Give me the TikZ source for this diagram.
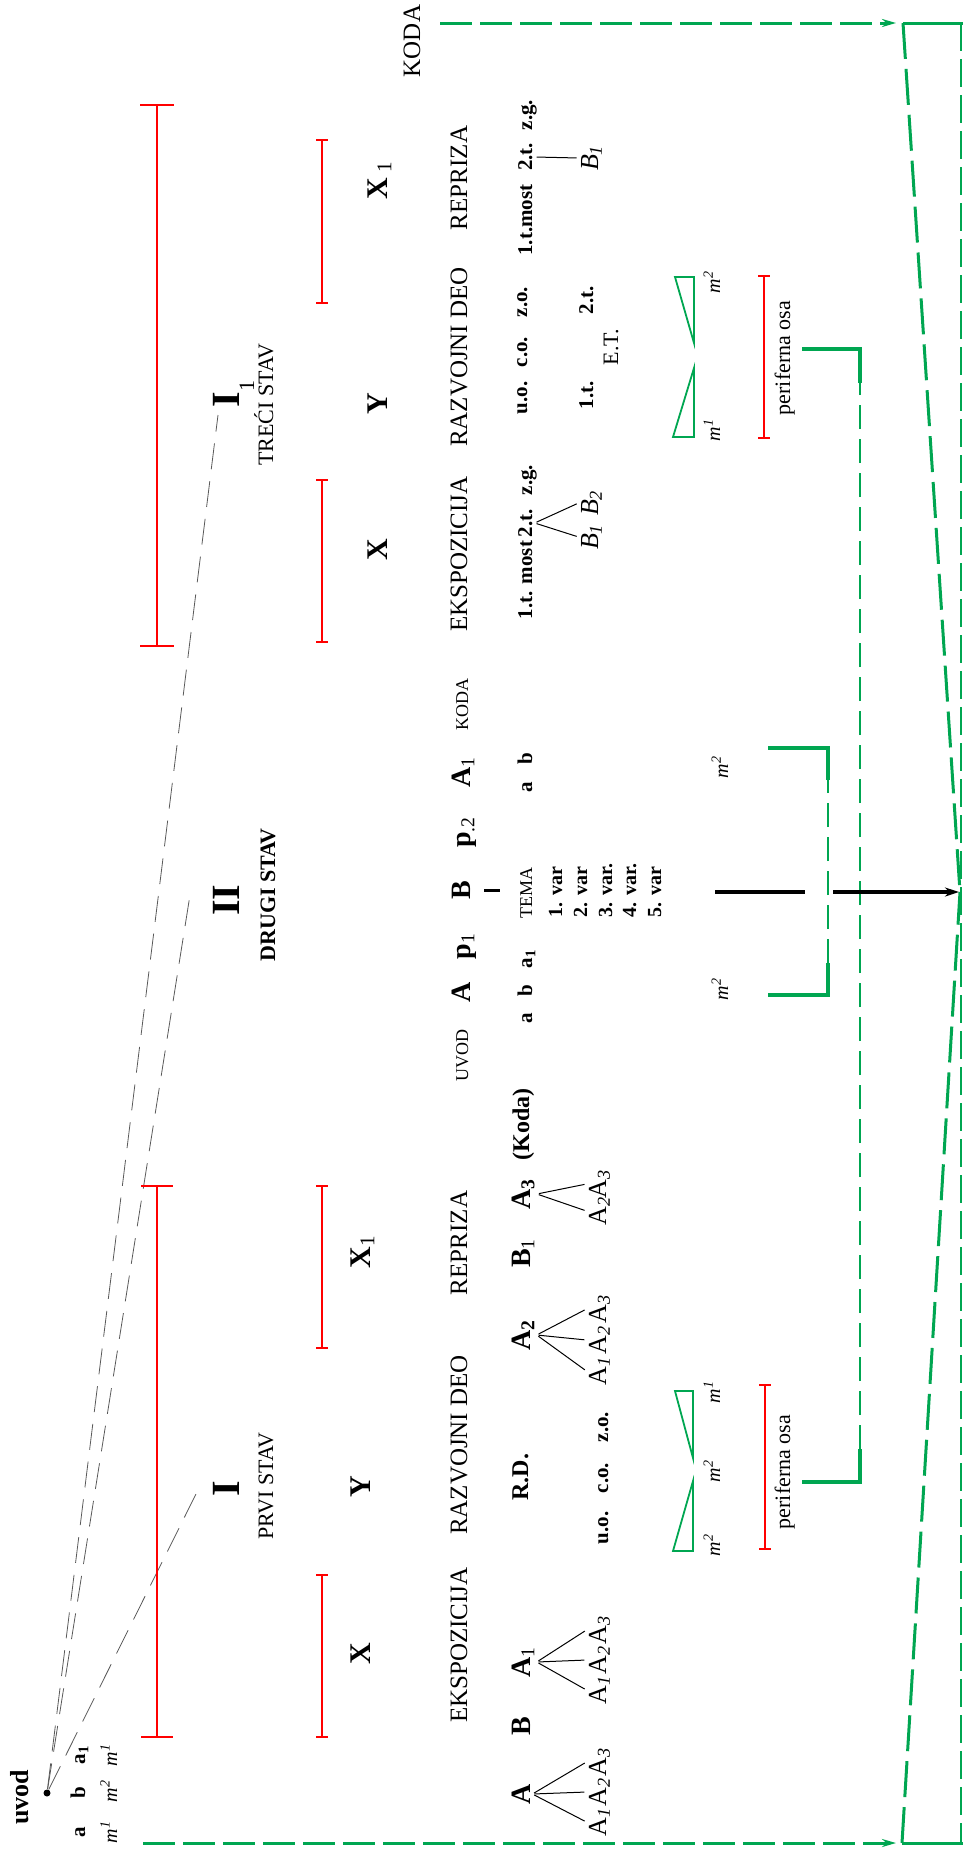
\documentclass[tikz,border=0pt]{standalone}
\usepackage{fontspec}
\setmainfont{Liberation Serif}
\usetikzlibrary{arrows.meta}
\definecolor{formred}{RGB}{255,0,0}
\definecolor{osagreen}{RGB}{0,166,81}
\newcommand{\slova}[1]{\fontsize{#1}{#1}\selectfont}
% bar with caps: [line width]{x}{y from}{y to}{half cap}
\newcommand{\formbar}[5][1pt]{%
  \draw[formred,line width=#1] (#2,#3) -- (#2,#4);
  \draw[formred,line width=#1] ({#2-#5},#3) -- ({#2+#5},#3)
    ({#2-#5},#4) -- ({#2+#5},#4);
}

\begin{document}
\begin{tikzpicture}[x=.5pt,y=-.5pt,
    rot/.style={rotate=90,anchor=base,inner sep=1pt},
    sekcija/.style={rot,font=\slova{12.5}},
    malo/.style={rot,font=\slova{9}},
    rimski/.style={rot,font=\slova{20}\bfseries},
    naziv/.style={rot,font=\slova{11}},
    oznaka/.style={rot,font=\slova{15}\bfseries},
    tema/.style={rot,font=\slova{14}\bfseries},
    podtema/.style={rot,font=\slova{13}},
    deo/.style={rot,font=\slova{10.5}\bfseries},
    modus/.style={rot,font=\slova{10}\itshape},
    varijacija/.style={rot,anchor=base west,font=\slova{10}\bfseries},
    grana/.style={line width=.5pt,shorten <=1pt,shorten >=1pt},
    veza/.style={black!65,line width=.4pt,dash pattern=on 13pt off 6pt},
    osa/.style={osagreen,line width=2pt},
    osacrta/.style={osagreen,line width=1pt,dash pattern=on 12pt off 5pt},
    okvir/.style={osagreen,line width=1.5pt,dash pattern=on 16pt off 4pt},
    dinamika/.style={osagreen,line width=.9pt},
  ]
  \useasboundingbox (0,0) rectangle (963,1852);

  % uvod
  \node[rot,font=\slova{13}\bfseries] (uvod) at (28,1797) {uvod};
  \node[circle,fill,inner sep=0pt,minimum size=3.5pt] (tacka) at (47,1793) {};
  \node[deo] (uvoda) at (85,1832) {a};
  \node[deo] (uvodb) at (85,1793) {b};
  \node[deo] (uvoda1) at (85,1755) {a\textsubscript{1}};
  \node[modus] (uvodm1) at (117,1832) {m\textsuperscript{1}};
  \node[modus] (uvodm2) at (117,1791) {m\textsuperscript{2}};
  \node[modus] (uvodm3) at (117,1755) {m\textsuperscript{1}};

  % stavovi
  \node[rimski] (prvi) at (239,1489) {I};
  \node[naziv] (prvinaziv) at (273,1486) {PRVI STAV};
  \node[rimski] (drugi) at (239,900) {II};
  \node[naziv,font=\slova{11}\bfseries] (druginaziv) at (275,895) {DRUGI STAV};
  \node[rimski] (treci) at (239,394) {I\raisebox{-7.5pt}{\slova{11}\mdseries 1}};
  \node[naziv] (trecinaziv) at (273,405) {TREĆI STAV};

  \coordinate (krajI) at (198,1490);
  \coordinate (krajII) at (190,895);
  \coordinate (krajIII) at (218,415);
  \draw[veza] (tacka) -- (krajI);
  \draw[veza] (tacka) -- (krajII);
  \draw[veza] (tacka) -- (krajIII);

  % crvene linije
  \formbar{157}{1186}{1737}{16}
  \formbar{157}{105}{646}{17}
  \formbar{322}{1575}{1737}{6}
  \formbar{322}{1186}{1348}{6}
  \formbar{322}{480}{642}{6}
  \formbar{322}{140}{303}{6}
  \formbar[.8pt]{765}{1385}{1549}{6}
  \formbar[.8pt]{764}{276}{438}{6}

  \node[oznaka] (prviX) at (370,1654) {X};
  \node[oznaka] (prviY) at (370,1487) {Y};
  \node[oznaka] (prviX1) at (370,1252) {X\textsubscript{\mdseries 1}};
  \node[oznaka] (treciX) at (387,550) {X};
  \node[oznaka] (treciY) at (387,404) {Y};
  \node[oznaka] (treciX1) at (387,180) {X\,\textsubscript{\mdseries 1}};

  % prvi stav
  \node[sekcija] (eksp1) at (467,1645) {EKSPOZICIJA};
  \node[sekcija] (razv1) at (467,1445) {RAZVOJNI DEO};
  \node[sekcija] (repr1) at (467,1243) {REPRIZA};

  \node[tema] (eA) at (530,1794) {A};
  \node[tema] (eB) at (530,1726) {B};
  \node[tema] (eA1) at (530,1662) {A\textsubscript{\mdseries 1}};
  \node[podtema] (eA-1) at (606,1822) {A\textsubscript{\itshape 1}};
  \node[podtema] (eA-2) at (606,1792) {A\textsubscript{\itshape 2}};
  \node[podtema] (eA-3) at (606,1762) {A\textsubscript{\itshape 3}};
  \node[podtema] (eA1-1) at (606,1690) {A\textsubscript{\itshape 1}};
  \node[podtema] (eA1-2) at (606,1660) {A\textsubscript{\itshape 2}};
  \node[podtema] (eA1-3) at (606,1630) {A\textsubscript{\itshape 3}};
  \foreach \k in {1,2,3}{
    \draw[grana] (eA.south) -- (eA-\k.north);
    \draw[grana] (eA1.south) -- (eA1-\k.north);
  }

  \node[deo,font=\slova{12}\bfseries] (rd) at (528,1477) {R.D.};
  \node[deo] (uo1) at (608,1528) {u.o.};
  \node[deo] (co1) at (608,1478) {c.o.};
  \node[deo] (zo1) at (608,1427) {z.o.};
  \node[tema] (rA2) at (530,1335) {A\textsubscript{2}};
  \node[podtema] (rA2-1) at (606,1371) {A\textsubscript{\itshape 1}};
  \node[podtema] (rA2-2) at (606,1340) {A\textsubscript{\itshape 2}};
  \node[podtema] (rA2-3) at (606,1309) {A\textsubscript{\itshape 3}};
  \foreach \k in {1,2,3}{\draw[grana] (rA2.south) -- (rA2-\k.north);}

  \node[tema] (pB1) at (530,1253) {B\textsubscript{\mdseries 1}};
  \node[tema] (pA3) at (530,1194) {A\textsubscript{3}};
  \node[podtema] (pA3-2) at (606,1211) {A\textsubscript{\itshape 2}};
  \node[podtema] (pA3-3) at (606,1184) {A\textsubscript{\itshape 3}};
  \foreach \k in {2,3}{\draw[grana] (pA3.south) -- (pA3-\k.north);}
  \node[tema,font=\slova{12}\bfseries] (koda1) at (529,1124) {(Koda)};

  % drugi stav
  \node[malo] (uvod2) at (468,1055) {UVOD};
  \node[tema] (tA) at (470,992) {A};
  \node[tema] (tp1) at (470,946) {p\textsubscript{\mdseries 1}};
  \node[tema] (tB) at (470,890) {B};
  \node[tema] (tp2) at (470,832) {p\textsubscript{\mdseries .2}};
  \node[tema] (tA1) at (470,772) {A\textsubscript{\mdseries 1}};
  \node[malo] (koda2) at (468,704) {KODA};
  \node[deo] (ta-a) at (532,1018) {a};
  \node[deo] (ta-b) at (532,991) {b};
  \node[deo] (ta-a1) at (532,959) {a\textsubscript{1}};
  \node[malo] (tema) at (532,893) {TEMA};
  \node[deo] (tA1-a) at (532,787) {a};
  \node[deo] (tA1-b) at (532,759) {b};
  \draw[line width=1.5pt,shorten <=6pt,shorten >=9pt] (tB.south) -- (tema.north |- tB.south);
  \node[varijacija] (var1) at (562,920) {1. var};
  \node[varijacija] (var2) at (587,920) {2. var};
  \node[varijacija] (var3) at (612,920) {3. var.};
  \node[varijacija] (var4) at (636,920) {4. var.};
  \node[varijacija] (var5) at (661,920) {5. var};

  % treci stav
  \node[sekcija] (eksp3) at (467,554) {EKSPOZICIJA};
  \node[sekcija] (razv3) at (467,357) {RAZVOJNI DEO};
  \node[sekcija] (repr3) at (467,178) {REPRIZA};
  \node[sekcija] (koda3) at (420,41) {KODA};

  \node[deo] (e3t1) at (532,580) {1.t. most};
  \node[deo] (e3t2) at (532,523) {2.t.};
  \node[deo] (e3zg) at (532,480) {z.g.};
  \node[rot,font=\slova{13}\itshape] (e3B1) at (598,537) {B\textsubscript{1}};
  \node[rot,font=\slova{13}\itshape] (e3B2) at (598,503) {B\textsubscript{2}};
  \draw[grana] (e3t2.south) -- (e3B1.north);
  \draw[grana] (e3t2.south) -- (e3B2.north);

  \node[deo] (uo3) at (527,398) {u.o.};
  \node[deo] (co3) at (527,352) {c.o.};
  \node[deo] (zo3) at (527,302) {z.o.};
  \node[deo] (r3t1) at (593,395) {1.t.};
  \node[deo] (r3t2) at (593,300) {2.t.};
  \node[naziv] (r3et) at (618,347) {E.T.};

  \node[deo] (p3t1) at (532,220) {1.t.most};
  \node[deo] (p3t2) at (532,157) {2.t.};
  \node[deo] (p3zg) at (532,115) {z.g.};
  \node[rot,font=\slova{13}\itshape] (p3B1) at (598,158) {B\textsubscript{1}};
  \draw[grana] (p3t2.south) -- (p3B1.north);

  % dinamika
  \draw[dinamika] (675,1391) -- (693,1391) -- (693,1458) -- cycle;
  \draw[dinamika] (673,1551) -- (693,1551) -- (693,1481) -- cycle;
  \draw[dinamika] (675,277) -- (694,277) -- (694,343) -- cycle;
  \draw[dinamika] (673,437) -- (694,437) -- (694,368) -- cycle;
  \node[modus] (m1a) at (720,1392) {m\textsuperscript{1}};
  \node[modus] (m1b) at (720,1471) {m\textsuperscript{2}};
  \node[modus] (m1c) at (720,1545) {m\textsuperscript{2}};
  \node[modus] (m2a) at (728,989) {m\textsuperscript{2}};
  \node[modus] (m2b) at (728,767) {m\textsuperscript{2}};
  \node[modus] (m3a) at (720,282) {m\textsuperscript{2}};
  \node[modus] (m3b) at (720,430) {m\textsuperscript{1}};

  \node[naziv] (perif1) at (790,1472) {periferna osa};
  \node[naziv] (perif3) at (790,358) {periferna osa};

  % zelene ose
  \draw[osa] (802,1482) -- (860,1482) -- (860,1449);
  \draw[osacrta] (860,1449) -- (860,383);
  \draw[osa] (860,383) -- (860,349) -- (802,349);
  \draw[osa] (768,995) -- (828,995) -- (828,963);
  \draw[osacrta] (828,963) -- (828,780);
  \draw[osa] (828,780) -- (828,748) -- (768,748);

  \draw[line width=1.6pt] (715,892) -- (805,892);
  \draw[line width=1.6pt,-{Stealth[length=7pt,width=4.5pt]}] (833,892) -- (959,892);

  \draw[okvir,-{Stealth[length=7pt,width=4pt]}] (440,23) -- (896,23);
  \draw[okvir,-{Stealth[length=7pt,width=4pt]}] (143,1843) -- (896,1843);
  \draw[osagreen,line width=1.5pt] (903,23) -- (963,23);
  \draw[osagreen,line width=1.5pt] (902,1843) -- (963,1843);
  \draw[okvir,dash pattern=on 18pt off 5pt] (903,23) -- (960,892);
  \draw[okvir,dash pattern=on 18pt off 5pt] (902,1843) -- (960,892);
  \draw[okvir,line width=1pt,dash pattern=on 14pt off 4pt] (961,23) -- (961,1843);
\end{tikzpicture}
\end{document}
